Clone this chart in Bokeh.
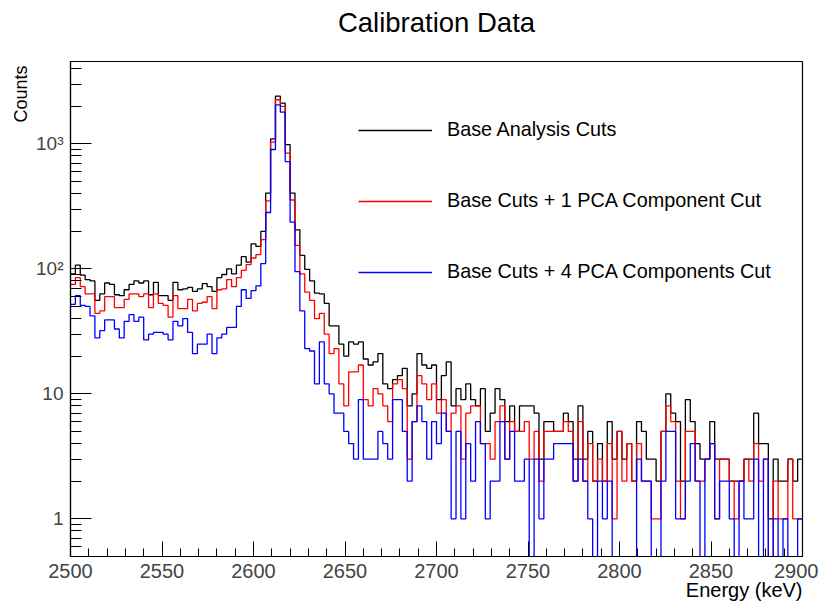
import numpy as np
from math import pi
from bokeh.plotting import figure
from bokeh.models import FixedTicker, Legend, LegendItem, Range1d, Title
from bokeh.embed import file_html
from bokeh.resources import INLINE

# ---------------- data ----------------
E_MIN, E_MAX, N_BINS = 2500.0, 2900.0, 150

base_counts = [
    91, 107, 89, 82, 80, 56, 63, 77, 75, 62,
    61, 68, 75, 80, 77, 80, 62, 78, 61, 61,
    56, 78, 68, 69, 71, 66, 69, 76, 72, 66,
    85, 90, 100, 91, 107, 125, 113, 158, 151, 199,
    403, 1096, 2404, 2113, 986, 403, 205, 128, 99, 80,
    64, 63, 53, 35, 35, 25, 20, 26, 25, 26,
    19, 17, 18, 21, 12, 11, 13, 14, 16, 8,
    10, 21, 17, 16, 17, 9, 14, 18, 8, 11,
    9, 12, 9, 8, 11, 5, 7, 11, 9, 6,
    8, 5, 8, 8, 8, 7, 3, 6, 6, 5,
    5, 7, 6, 3, 8, 3, 5, 2, 4, 2,
    6, 3, 5, 3, 4, 2, 6, 5, 3, 3,
    2, 5, 10, 7, 6, 2, 9, 6, 4, 3,
    3, 6, 3, 3, 3, 2, 2, 2, 3, 3,
    7, 4, 4, 1, 3, 2, 2, 3, 2, 3,
]

pca1_counts = [
    75, 85, 72, 63, 63, 44, 46, 60, 60, 49,
    49, 57, 63, 63, 60, 63, 49, 63, 53, 51,
    41, 61, 48, 48, 57, 46, 53, 54, 60, 48,
    68, 69, 82, 72, 85, 97, 108, 122, 130, 171,
    350, 1030, 2250, 1990, 841, 355, 154, 91, 65, 56,
    40, 44, 30, 21, 23, 12, 8, 15, 15, 17,
    9, 8, 11, 10, 8, 6, 12, 13, 11, 3,
    6, 14, 12, 9, 12, 7, 9, 5, 7, 8,
    3, 7, 8, 8, 4, 4, 3, 6, 8, 3,
    6, 5, 5, 6, 3, 5, 2, 5, 5, 5,
    5, 6, 5, 2, 6, 2, 4, 2, 3, 2,
    4, 1, 5, 2, 4, 2, 4, 2, 2, 1,
    1, 5, 8, 6, 2, 1, 5, 5, 2, 2,
    3, 4, 1, 3, 3, 2, 1, 2, 3, 2,
    4, 2, 3, 0, 2, 1, 1, 3, 1, 1,
]

pca4_counts = [
    52, 61, 51, 50, 42, 28, 32, 39, 39, 33,
    28, 38, 43, 38, 41, 27, 30, 31, 31, 30,
    27, 38, 35, 40, 31, 21, 25, 25, 30, 21,
    28, 30, 34, 34, 50, 68, 58, 67, 73, 110,
    282, 900, 2050, 1790, 720, 236, 95, 46, 23, 22,
    12, 26, 12, 10, 7, 7, 5, 4, 3, 9,
    3, 3, 3, 5, 4, 3, 9, 9, 5, 2,
    6, 8, 6, 3, 6, 4, 7, 5, 1, 5,
    1, 4, 2, 6, 4, 1, 2, 2, 6, 3,
    5, 2, 2, 3, 0, 3, 1, 3, 3, 4,
    4, 4, 4, 2, 3, 2, 1, 0, 2, 1,
    2, 0, 0, 0, 0, 0, 3, 2, 2, 0,
    0, 2, 5, 5, 1, 1, 2, 4, 2, 0,
    3, 4, 1, 2, 2, 1, 0, 2, 1, 1,
    3, 0, 3, 0, 1, 0, 1, 0, 0, 1,
]

series_labels = ["Base Analysis Cuts",
                 "Base Cuts + 1 PCA Component Cut",
                 "Base Cuts + 4 PCA Components Cut"]
series_colors = ["#000000", "#ff0000", "#0000ff"]

x_ticks = [2500, 2550, 2600, 2650, 2700, 2750, 2800, 2850, 2900]
y_ticks = [1, 10, 100, 1000]
y_tick_labels = ["1", "10", "10\u00b2", "10\u00b3"]

Y_MIN, Y_MAX = 0.5, 4550.0
ZERO_FLOOR = 0.05   # empty bins are drawn down past the frame bottom

FONT = "Liberation Sans"

# ---------------- figure ----------------
p = figure(width=818, height=606,
           x_range=Range1d(E_MIN, E_MAX), y_range=Range1d(Y_MIN, Y_MAX),
           y_axis_type="log", output_backend="svg", toolbar_location=None,
           min_border_left=70, min_border_right=16,
           min_border_top=61, min_border_bottom=50)
p.title.visible = False
p.xgrid.visible = False
p.ygrid.visible = False
p.outline_line_color = "black"
p.outline_line_width = 1.2
p.background_fill_color = "white"
p.border_fill_color = "white"

edges = np.linspace(E_MIN, E_MAX, N_BINS + 1)


def step_xy(counts):
    c = np.asarray(counts, dtype=float)
    shown = np.where(c > 0, c, ZERO_FLOOR)
    xs = np.repeat(edges, 2)[1:-1]
    ys = np.repeat(shown, 2)
    return xs, ys


items = []
for counts, label, color in zip([base_counts, pca1_counts, pca4_counts],
                                series_labels, series_colors):
    xs, ys = step_xy(counts)
    r = p.line(xs, ys, line_color=color, line_width=1.3)
    m = p.scatter(x=[], y=[], marker="dash", angle=pi / 2, size=5,
                  line_color="black", line_width=1)
    items.append(LegendItem(label=label, renderers=[r, m]))

legend = Legend(items=items, location=(288, 273),
                glyph_width=74, glyph_height=20, label_height=20,
                spacing=48, padding=0, margin=0, label_standoff=15,
                border_line_alpha=0, background_fill_alpha=0,
                label_text_font=FONT, label_text_font_size="19.8px",
                label_text_color="black")
p.add_layout(legend)

# axes
xa = p.xaxis[0]
xa.ticker = FixedTicker(ticks=x_ticks, minor_ticks=list(range(2500, 2901, 10)))
xa.major_tick_in = 15
xa.major_tick_out = 0
xa.minor_tick_in = 8
xa.minor_tick_out = 0
xa.major_label_standoff = 7
xa.major_label_text_font = FONT
xa.major_label_text_font_size = "20px"
xa.axis_line_width = 1.2

minor_y = ([0.6, 0.7, 0.8, 0.9] + list(range(2, 10)) + list(range(20, 100, 10))
           + list(range(200, 1000, 100)) + [2000, 3000, 4000])
ya = p.yaxis[0]
ya.ticker = FixedTicker(ticks=y_ticks, minor_ticks=minor_y)
ya.major_label_overrides = {t: s for t, s in zip(y_ticks, y_tick_labels)}
ya.major_tick_in = 21
ya.major_tick_out = 0
ya.minor_tick_in = 11
ya.minor_tick_out = 0
ya.major_label_standoff = 7
ya.major_label_text_font = FONT
ya.major_label_text_font_size = "19px"
ya.axis_line_width = 1.2

# titles placed as ROOT does; a blank spacer lifts the main title upward
p.add_layout(Title(text=" ", text_font=FONT, text_font_size="10px",
                   standoff=7), "above")
p.add_layout(Title(text="Calibration Data", align="center", text_font=FONT,
                   text_font_size="27.5px", text_font_style="normal",
                   text_color="black", standoff=8), "above")
p.add_layout(Title(text="Energy (keV)", align="right", text_font=FONT,
                   text_font_size="20px", text_font_style="normal",
                   text_color="black", standoff=-7), "below")
p.add_layout(Title(text="Counts", align="right", text_font=FONT,
                   text_font_size="18px", text_font_style="normal",
                   text_color="black", standoff=6, offset=4), "left")

open("out.html", "w").write(file_html(p, INLINE))
